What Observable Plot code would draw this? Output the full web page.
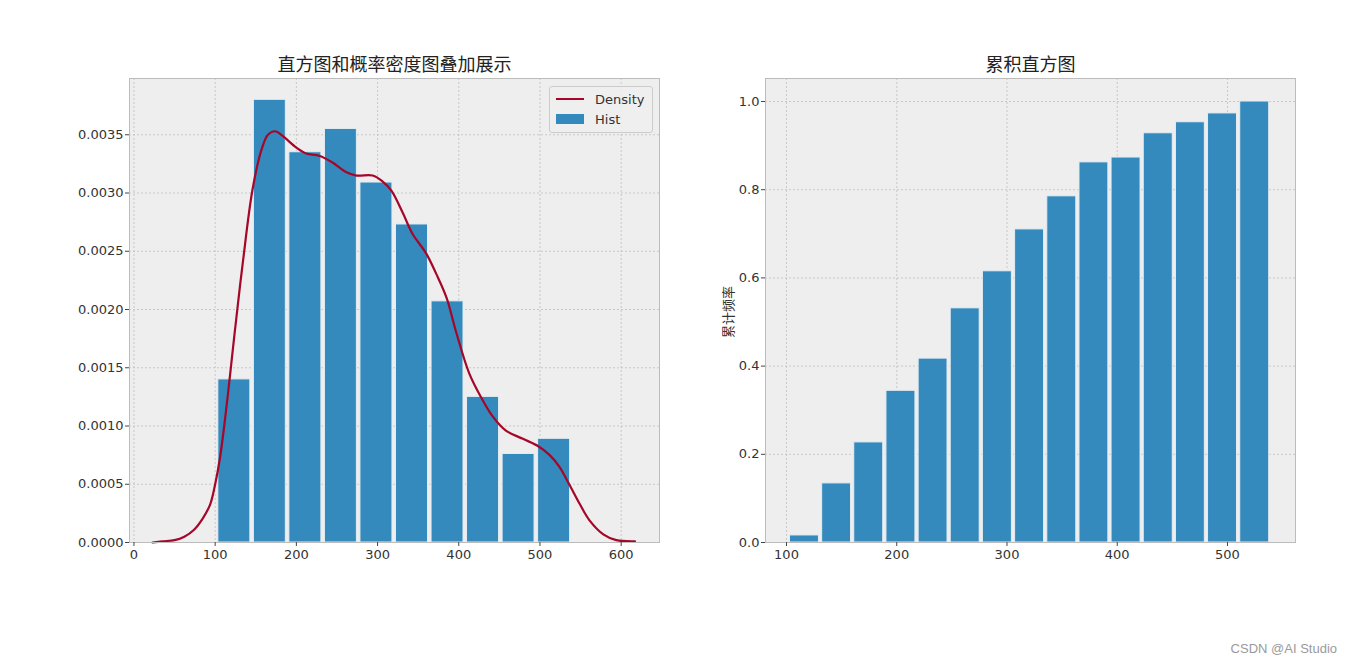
<!DOCTYPE html>
<html>
<head>
<meta charset="utf-8">
<script src="https://cdn.jsdelivr.net/npm/d3@7"></script>
<script src="https://cdn.jsdelivr.net/npm/@observablehq/plot@0.6"></script>
<style>
  html, body { margin: 0; padding: 0; background: #ffffff; }
  body { width: 1352px; height: 666px; overflow: hidden; position: relative;
         font-family: "DejaVu Sans", "Noto Sans CJK SC", sans-serif; }
  .panel { position: absolute; top: 0; }
  #legend { position: absolute; left: 549px; top: 86px; width: 102px; height: 45px;
            border: 1px solid #cccccc; border-radius: 3px; background: rgba(238,238,238,0.85);
            font-family: "DejaVu Sans", sans-serif; font-size: 13px; color: #333; }
  .lg-row { position: absolute; left: 6px; height: 16px; display: flex; align-items: center; }
  .lg-line { width: 28px; height: 2px; background: #A60628; margin-right: 11px; }
  .lg-rect { width: 28px; height: 10px; background: #348ABD; margin-right: 11px; }
  #ylab { position: absolute; left: 727px; top: 312px; transform: translate(-50%, -50%) rotate(-90deg);
          font-family: "Noto Sans CJK SC", sans-serif; font-size: 13px; color: #333; white-space: nowrap; }
  #wm { position: absolute; right: 15px; top: 641px; font-family: "Liberation Sans", Arial, sans-serif;
        font-size: 13px; color: #9a9a9a; }
</style>
</head>
<body>
<div id="left" class="panel" style="left:0px"></div>
<div id="right" class="panel" style="left:676px"></div>
<div id="legend">
  <div class="lg-row" style="top:4px"><div class="lg-line"></div><span>Density</span></div>
  <div class="lg-row" style="top:24px"><div class="lg-rect"></div><span>Hist</span></div>
</div>
<div id="ylab">累计频率</div>
<div id="wm">CSDN @AI Studio</div>
<script>
// ---- data ----
const leftTitle = "直方图和概率密度图叠加展示";
const rightTitle = "累积直方图";
const rightYLabel = "累计频率";

const leftEdges = [101.7, 145.5, 189.2, 233.0, 276.7, 320.5, 364.3, 408.0, 451.8, 495.5, 539.3];
const leftDensity = [0.00140, 0.00380, 0.00335, 0.00355, 0.00309, 0.00273, 0.00207, 0.00125, 0.00076, 0.00089];

const kdeX = [23, 35, 50, 62, 74, 85, 94, 100, 106, 112, 119, 124, 134, 146, 157, 165, 174, 183, 200, 212, 228, 245, 261, 274, 294, 306, 317, 331, 343, 360, 372, 385, 397, 413, 428, 442, 458, 479, 497, 512, 524, 536, 549, 561, 578, 594, 617];
const kdeY = [0.00000, 0.00001, 0.00002, 0.00005, 0.00011, 0.00021, 0.00033, 0.00050, 0.00073, 0.00105, 0.00148, 0.00180, 0.00240, 0.00303, 0.00337, 0.00350, 0.00353, 0.00349, 0.00339, 0.00334, 0.00332, 0.00326, 0.00318, 0.00315, 0.00315, 0.00310, 0.00302, 0.00283, 0.00265, 0.00248, 0.00231, 0.00210, 0.00180, 0.00145, 0.00124, 0.00108, 0.00096, 0.00089, 0.00083, 0.00075, 0.00065, 0.00050, 0.00033, 0.00019, 0.00007, 0.00002, 0.00001];

const rightEdges = [101.7, 130.9, 160.0, 189.2, 218.4, 247.5, 276.7, 305.9, 335.1, 364.3, 393.4, 422.6, 451.8, 480.9, 510.1, 539.3];
const cumFreq = [0.016, 0.134, 0.227, 0.344, 0.417, 0.531, 0.615, 0.710, 0.785, 0.862, 0.873, 0.928, 0.953, 0.973, 1.000];

const leftXTicks = [0, 100, 200, 300, 400, 500, 600];
const leftYTicks = [0, 0.0005, 0.0010, 0.0015, 0.0020, 0.0025, 0.0030, 0.0035];
const rightXTicks = [100, 200, 300, 400, 500];
const rightYTicks = [0, 0.2, 0.4, 0.6, 0.8, 1.0];

// ---- styles ----
const BAR = "#348ABD", LINE = "#A60628", BG = "#eeeeee", EDGE = "#bcbcbc", GRID = "#b8b8b8";
const gridStyle = {stroke: GRID, strokeOpacity: 1, strokeWidth: 0.7, strokeDasharray: "2,2"};
const axisStyle = {tickSize: 4, tickPadding: 3, stroke: "#444", fill: "#333", fontSize: 13, label: null};

function bars(edges, values, rwidth) {
  return values.map((v, i) => {
    const a = edges[i], b = edges[i + 1], g = (b - a) * (1 - rwidth) / 2;
    return {x1: a + g, x2: b - g, y: v};
  });
}

const kde = kdeX.map((x, i) => ({x, y: kdeY[i]}));

const left = Plot.plot({
  width: 676, height: 600,
  marginLeft: 129, marginRight: 17, marginTop: 78, marginBottom: 58,
  style: {background: "transparent", fontFamily: "DejaVu Sans, Noto Sans CJK SC, sans-serif", fontSize: "13px", overflow: "visible"},
  x: {domain: [-5.5, 647.2]},
  y: {domain: [0, 0.003983]},
  marks: [
    Plot.frame({fill: BG, stroke: null}),
    Plot.gridX(leftXTicks, gridStyle),
    Plot.gridY(leftYTicks, gridStyle),
    Plot.rectY(bars(leftEdges, leftDensity, 0.9), {x1: "x1", x2: "x2", y: "y", fill: BAR, stroke: "#e4ecf2", strokeWidth: 1}),
    Plot.line(kde, {x: "x", y: "y", stroke: LINE, strokeWidth: 2.2, curve: "catmull-rom"}),
    Plot.frame({stroke: EDGE, strokeWidth: 1}),
    Plot.axisX(leftXTicks, {...axisStyle, tickFormat: d => String(d)}),
    Plot.axisY(leftYTicks, {...axisStyle, tickPadding: 2, tickFormat: d3.format(".4f")}),
    Plot.text([leftTitle], {frameAnchor: "top", dy: -20, fontSize: 18, fill: "#222", fontFamily: "Noto Sans CJK SC, sans-serif"})
  ]
});
document.getElementById("left").appendChild(left);

const right = Plot.plot({
  width: 676, height: 600,
  marginLeft: 89, marginRight: 57, marginTop: 78, marginBottom: 58,
  style: {background: "transparent", fontFamily: "DejaVu Sans, Noto Sans CJK SC, sans-serif", fontSize: "13px", overflow: "visible"},
  x: {domain: [80.95, 561.7]},
  y: {domain: [0, 1.0522]},
  marks: [
    Plot.frame({fill: BG, stroke: null}),
    Plot.gridX(rightXTicks, gridStyle),
    Plot.gridY(rightYTicks, gridStyle),
    Plot.rectY(bars(rightEdges, cumFreq, 0.9), {x1: "x1", x2: "x2", y: "y", fill: BAR, stroke: "#e4ecf2", strokeWidth: 1}),
    Plot.frame({stroke: EDGE, strokeWidth: 1}),
    Plot.axisX(rightXTicks, {...axisStyle, tickFormat: d => String(d)}),
    Plot.axisY(rightYTicks, {...axisStyle, tickPadding: 2, tickFormat: d3.format(".1f")}),
    Plot.text([rightTitle], {frameAnchor: "top", dy: -20, fontSize: 18, fill: "#222", fontFamily: "Noto Sans CJK SC, sans-serif"})
  ]
});
document.getElementById("right").appendChild(right);
document.getElementById("ylab").textContent = rightYLabel;
</script>
</body>
</html>
